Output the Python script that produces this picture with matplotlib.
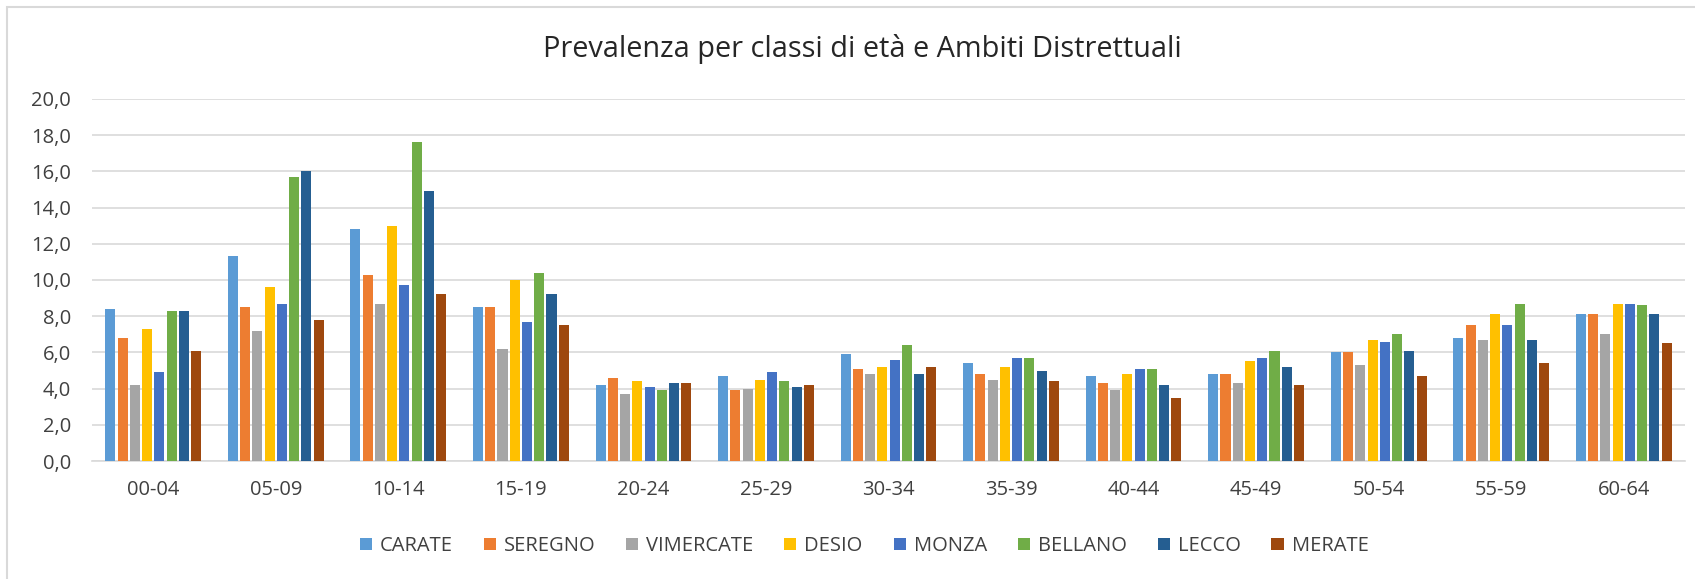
import numpy as np
import matplotlib
matplotlib.use("Agg")
import matplotlib.pyplot as plt
from matplotlib.patches import Rectangle

# ------------------------------------------------------------------
# Data
# ------------------------------------------------------------------
age_classes = ["00-04", "05-09", "10-14", "15-19", "20-24", "25-29", "30-34",
               "35-39", "40-44", "45-49", "50-54", "55-59", "60-64"]

carate    = [8.4, 11.3, 12.8, 8.5, 4.2, 4.7, 5.9, 5.4, 4.7, 4.8, 6.0, 6.8, 8.1]
seregno   = [6.8, 8.5, 10.3, 8.5, 4.6, 3.9, 5.1, 4.8, 4.3, 4.8, 6.0, 7.5, 8.1]
vimercate = [4.2, 7.2, 8.7, 6.2, 3.7, 4.0, 4.8, 4.5, 3.9, 4.3, 5.3, 6.7, 7.0]
desio     = [7.3, 9.6, 13.0, 10.0, 4.4, 4.5, 5.2, 5.2, 4.8, 5.5, 6.7, 8.1, 8.7]
monza     = [4.9, 8.7, 9.7, 7.7, 4.1, 4.9, 5.6, 5.7, 5.1, 5.7, 6.6, 7.5, 8.7]
bellano   = [8.3, 15.7, 17.6, 10.4, 3.9, 4.4, 6.4, 5.7, 5.1, 6.1, 7.0, 8.7, 8.6]
lecco     = [8.3, 16.0, 14.9, 9.2, 4.3, 4.1, 4.8, 5.0, 4.2, 5.2, 6.1, 6.7, 8.1]
merate    = [6.1, 7.8, 9.2, 7.5, 4.3, 4.2, 5.2, 4.4, 3.5, 4.2, 4.7, 5.4, 6.5]

series_names = ["CARATE", "SEREGNO", "VIMERCATE", "DESIO", "MONZA",
                "BELLANO", "LECCO", "MERATE"]
series_values = [carate, seregno, vimercate, desio, monza, bellano, lecco, merate]
colors = ["#5B9BD5", "#ED7D31", "#A5A5A5", "#FFC000", "#4472C4",
          "#70AD47", "#255E91", "#9E480E"]

# ------------------------------------------------------------------
# Figure
# ------------------------------------------------------------------
plt.rcParams['font.family'] = ['Open Sans', 'DejaVu Sans']
W, H = 1695, 579
fig = plt.figure(figsize=(W / 100, H / 100), dpi=100)
ax = fig.add_axes([92 / W, 1 - 461 / H, (1685 - 92) / W, (461 - 99) / H])

x = np.arange(len(age_classes))
slot = 0.1
bar_w = 0.082
for i, (name, vals, col) in enumerate(zip(series_names, series_values, colors)):
    offs = (i - (len(series_names) - 1) / 2) * slot
    ax.bar(x + offs, vals, width=bar_w, color=col, label=name, zorder=3)

ax.set_xlim(-0.5, len(age_classes) - 0.5)
ax.set_ylim(0, 20)
ax.set_yticks(np.arange(0, 21, 2))
ax.set_yticklabels([f"{v:.1f}".replace(".", ",") for v in np.arange(0, 21, 2)])
ax.set_xticks(x)
ax.set_xticklabels(age_classes)
ax.tick_params(axis='both', length=0, labelsize=14.5, colors="#404040")
ax.tick_params(axis='x', pad=14)
ax.tick_params(axis='y', pad=15)
ax.grid(axis='y', color="#D9D9D9", linewidth=1.2, zorder=0)
for s in ["top", "right", "left"]:
    ax.spines[s].set_visible(False)
ax.spines["bottom"].set_color("#D9D9D9")
ax.spines["bottom"].set_linewidth(1.2)

# title: centred on the chart area (x ~ 862 px), ~637 px wide in the source
title = fig.text(862 / W, 1 - 49 / H, "Prevalenza per classi di età e Ambiti Distrettuali",
                 ha="center", va="center", fontsize=20, color="#262626")
renderer = fig.canvas.get_renderer()
tw = title.get_window_extent(renderer).width
title.set_fontsize(20 * 637 / tw)

# legend: spans roughly 352..1377 px in the source
leg_fs = 14.5
leg = fig.legend(loc="center", bbox_to_anchor=(864 / W, 1 - 546 / H), ncol=8,
                 frameon=False, fontsize=leg_fs, handlelength=0.6, handleheight=0.6,
                 handletextpad=0.4, columnspacing=1.2)
lw = leg.get_window_extent(renderer).width
gap_pts = 7 * 1.2 * leg_fs
cs = 1.2 + (1025 - lw) * 0.72 / (7 * leg_fs)
leg.remove()
leg = fig.legend(loc="center", bbox_to_anchor=(864 / W, 1 - 546 / H), ncol=8,
                 frameon=False, fontsize=leg_fs, handlelength=0.6, handleheight=0.6,
                 handletextpad=0.4, columnspacing=max(cs, 0.5))
for t in leg.get_texts():
    t.set_color("#404040")

# light border of the chart area (only left/top edges visible in the source)
fig.patches.append(Rectangle((7 / W, -0.1), 1.2, 1 - 7 / H + 0.1,
                             transform=fig.transFigure, fill=False,
                             edgecolor="#D9D9D9", linewidth=1.5))

fig.savefig("out.png", dpi=100)
